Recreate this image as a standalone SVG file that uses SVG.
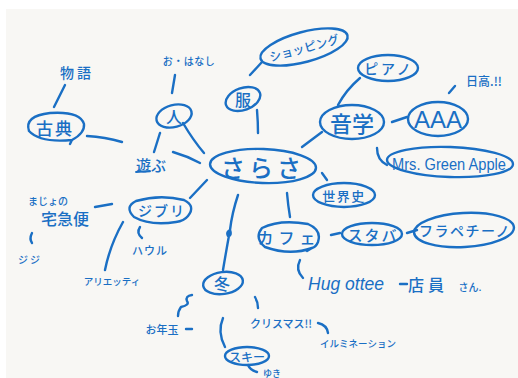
<svg xmlns="http://www.w3.org/2000/svg" width="518" height="378" viewBox="0 0 518 378">
  <style>
    .ink { fill: none; stroke: #1a6fc4; stroke-width: 2.4; stroke-linecap: round; stroke-linejoin: round; }
    .thin { stroke-width: 1.8; }
    .jp { font-family: "Noto Sans CJK JP", "Noto Sans", sans-serif; font-weight: 500; fill: #1a6fc4; text-anchor: middle; dominant-baseline: central; }
    .en { font-family: "Liberation Sans", "Noto Sans", sans-serif; fill: #1a6fc4; text-anchor: middle; dominant-baseline: central; }
  </style>
  <!-- paper -->
  <rect x="0" y="0" width="518" height="378" fill="#ffffff"/>
  <rect x="6" y="9" width="512" height="369" fill="#f8f7f4"/>

  <!-- connectors -->
  <g id="connectors" class="ink">
    <path d="M65 85 L54 107"/>
    <path d="M87 136 Q105 137 122 142"/>
    <path d="M175 75 L172 93"/>
    <path d="M183 123 Q193 140 204 153"/>
    <path d="M160 133 L154 152"/>
    <path d="M173 152 Q187 156 200 163"/>
    <path d="M250 75 L262 62"/>
    <path d="M257 110 Q258 122 258 133"/>
    <path d="M360 78 Q346 90 338 105"/>
    <path d="M302 147 L322 132"/>
    <path d="M392 122 L407 117"/>
    <path d="M455 86 L449 93"/>
    <path d="M377 148 Q377 160 387 165"/>
    <path d="M322 173 L327 180"/>
    <path d="M287 193 Q288 205 290 217"/>
    <path d="M331 235 L340 233"/>
    <path d="M407 233 L417 230"/>
    <path d="M300 260 Q295 270 303 278"/>
    <path d="M400 284 L407 284"/>
    <path d="M207 180 L190 198"/>
    <path d="M95 207 L112 204"/>
    <path d="M140 227 Q136 233 142 238"/>
    <path d="M123 222 Q110 245 105 270"/>
    <path d="M32 233 Q29 239 32 243"/>
    <path d="M238 195 Q232 213 230 230 Q232 236 228 236 Q226 232 230 230 Q226 252 223 270"/>
    <path d="M192 295 Q185 296 187 301 Q190 305 181 307 Q178 311 178 316"/>
    <path d="M186 329 L192 329"/>
    <path d="M255 297 Q258 302 258 308"/>
    <path d="M318 323 Q327 325 328 333"/>
    <path d="M223 318 Q217 332 225 347"/>
    <path d="M248 365 Q250 370 257 372"/>
  </g>

  <!-- nodes -->
  <g id="center-sarasa">
    <ellipse class="ink" cx="263" cy="166" rx="53" ry="17" transform="rotate(2 263 166)"/>
    <text class="jp" x="263" y="166" font-size="24" letter-spacing="4">さらさ</text>
  </g>
  <g id="koten">
    <path class="ink" d="M72 140 Q40 143 29 131 Q24 116 50 113 Q80 111 84 124 Q85 133 72 140 L70 144"/>
    <text class="jp" x="55" y="127" font-size="17" letter-spacing="2">古典</text>
  </g>
  <g id="monogatari"><text class="jp" x="77" y="72" font-size="14" letter-spacing="3">物語</text></g>
  <g id="ohanashi"><text class="jp" x="189" y="60" font-size="10" letter-spacing="0.5">お・はなし</text></g>
  <g id="hito">
    <ellipse class="ink" cx="174" cy="116" rx="18" ry="11" transform="rotate(-15 174 116)"/>
    <text class="jp" x="174" y="116" font-size="16">人</text>
  </g>
  <g id="asobu">
    <text class="jp" x="151" y="164" font-size="15">遊ぶ</text>
    <path class="ink thin" d="M136 172 L150 171"/>
  </g>
  <g id="fuku">
    <ellipse class="ink" cx="243" cy="99" rx="18" ry="11" transform="rotate(-20 243 99)"/>
    <text class="jp" x="243" y="99" font-size="16">服</text>
  </g>
  <g id="shopping">
    <ellipse class="ink" cx="304" cy="47" rx="45" ry="15" transform="rotate(-15 304 47)"/>
    <text class="jp" x="304" y="47" font-size="12" transform="rotate(-15 304 47)">ショッピング</text>
  </g>
  <g id="piano">
    <ellipse class="ink" cx="388" cy="68" rx="30" ry="13"/>
    <text class="jp" x="389" y="68" font-size="14" letter-spacing="3">ピアノ</text>
  </g>
  <g id="hidaka"><text class="jp" x="484" y="80" font-size="12">日高.!!</text></g>
  <g id="ongaku">
    <ellipse class="ink" cx="352" cy="122" rx="32" ry="17"/>
    <text class="jp" x="352" y="122" font-size="22">音学</text>
  </g>
  <g id="aaa">
    <ellipse class="ink" cx="438" cy="119" rx="30" ry="17"/>
    <text class="en" x="438" y="120" font-size="23" textLength="48" lengthAdjust="spacingAndGlyphs">AAA</text>
  </g>
  <g id="mrs-green-apple">
    <ellipse class="ink" cx="450" cy="162" rx="63" ry="15" transform="rotate(2 450 162)"/>
    <text class="en" x="449" y="164" font-size="16" textLength="114" lengthAdjust="spacingAndGlyphs">Mrs. Green Apple</text>
  </g>
  <g id="sekaishi">
    <ellipse class="ink" cx="344" cy="195" rx="31" ry="12"/>
    <text class="jp" x="344" y="195" font-size="13" letter-spacing="1.5">世界史</text>
  </g>
  <g id="cafe">
    <path class="ink" d="M312 248 Q290 256 265 247 Q254 238 262 228 Q280 219 308 224 Q322 230 318 242 Q316 247 312 248 L307 251"/>
    <text class="jp" x="289" y="237" font-size="16" letter-spacing="5">カフェ</text>
  </g>
  <g id="sutaba">
    <ellipse class="ink" cx="372" cy="234" rx="30" ry="11"/>
    <text class="jp" x="373" y="234" font-size="15" letter-spacing="2">スタバ</text>
  </g>
  <g id="frappuccino">
    <ellipse class="ink" cx="464" cy="230" rx="50" ry="17" transform="rotate(-3 464 230)"/>
    <text class="jp" x="465" y="230" font-size="14" letter-spacing="1.5">フラペチーノ</text>
  </g>
  <g id="hug-ottee">
    <text class="en" x="346" y="283" font-size="19" font-style="italic" textLength="76" lengthAdjust="spacingAndGlyphs">Hug ottee</text>
    <text class="jp" x="428" y="284" font-size="16" letter-spacing="4">店員</text>
    <text class="jp" x="470" y="286" font-size="10">さん.</text>
  </g>
  <g id="majo">
    <text class="jp" x="48" y="200" font-size="10">まじょの</text>
    <text class="jp" x="65" y="218" font-size="16">宅急便</text>
  </g>
  <g id="ghibli">
    <path class="ink" d="M176 222 Q150 226 134 217 Q124 207 136 201 Q160 194 184 200 Q196 206 188 216 Q184 221 176 222"/>
    <text class="jp" x="162" y="210" font-size="14" letter-spacing="2">ジブリ</text>
  </g>
  <g id="howl"><text class="jp" x="150" y="250" font-size="11" letter-spacing="1">ハウル</text></g>
  <g id="arrietty"><text class="jp" x="112" y="281" font-size="9.5">アリエッティ</text></g>
  <g id="jiji"><text class="jp" x="30" y="259" font-size="10" letter-spacing="2">ジジ</text></g>
  <g id="fuyu">
    <ellipse class="ink" cx="223" cy="283" rx="20" ry="11" transform="rotate(-8 223 283)"/>
    <text class="jp" x="222" y="283" font-size="16">冬</text>
  </g>
  <g id="otoshidama"><text class="jp" x="162" y="329" font-size="11">お年玉</text></g>
  <g id="christmas"><text class="jp" x="281" y="323" font-size="11">クリスマス!!</text></g>
  <g id="illumination"><text class="jp" x="358" y="343" font-size="9.5">イルミネーション</text></g>
  <g id="ski">
    <ellipse class="ink" cx="247" cy="356" rx="22" ry="9"/>
    <text class="jp" x="247" y="356" font-size="12">スキー</text>
  </g>
  <g id="yuki"><text class="jp" x="272" y="373" font-size="9">ゆき</text></g>
</svg>
